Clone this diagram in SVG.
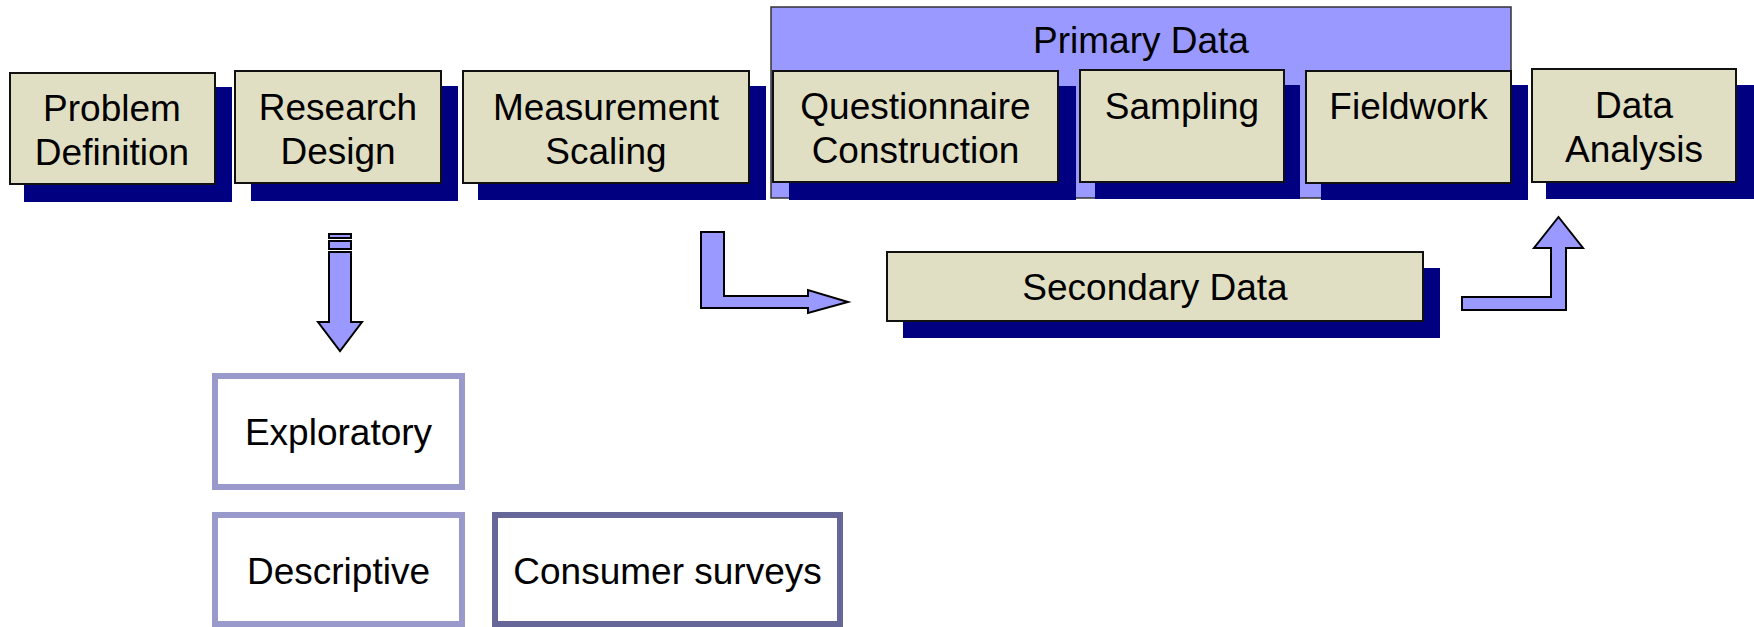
<svg xmlns="http://www.w3.org/2000/svg" width="1754" height="627" viewBox="0 0 1754 627">
<style>
.sh{fill:#000080;}
.bx{fill:#E1DFC3;stroke:#111;stroke-width:2;}
.t{font-family:"Liberation Sans",Arial,sans-serif;font-size:37px;fill:#000;text-anchor:middle;}
.arr{fill:#9999FF;stroke:#000;stroke-width:2;stroke-linejoin:miter;}
.lt{fill:#fff;stroke:#9999CC;stroke-width:6;}
.dk{fill:#fff;stroke:#666699;stroke-width:6;}
</style>
<rect width="1754" height="627" fill="#fff"/>
<g id="primary-data">
<rect x="771" y="7" width="740" height="191" fill="#9999FF" stroke="#333" stroke-width="1.5"/>
<text class="t" x="1141" y="53">Primary Data</text>
</g>
<g id="shadows">
<rect class="sh" x="24" y="87" width="208" height="115"/>
<rect class="sh" x="251" y="86" width="207" height="115"/>
<rect class="sh" x="478" y="86" width="288" height="114"/>
<rect class="sh" x="789" y="86" width="287" height="114"/>
<rect class="sh" x="1095" y="85" width="205" height="114"/>
<rect class="sh" x="1321" y="85" width="207" height="115"/>
<rect class="sh" x="1546" y="85" width="208" height="114"/>
<rect class="sh" x="903" y="268" width="537" height="70"/>
</g>
<g id="problem-definition">
<rect class="bx" x="10" y="73" width="205" height="111"/>
<text class="t" x="112" y="121">Problem</text>
<text class="t" x="112" y="165">Definition</text>
</g>
<g id="research-design">
<rect class="bx" x="235" y="71" width="206" height="112"/>
<text class="t" x="338" y="120">Research</text>
<text class="t" x="338" y="164">Design</text>
</g>
<g id="measurement-scaling">
<rect class="bx" x="463" y="71" width="286" height="112"/>
<text class="t" x="606" y="120">Measurement</text>
<text class="t" x="606" y="164">Scaling</text>
</g>
<g id="questionnaire-construction">
<rect class="bx" x="773" y="71" width="285" height="111"/>
<text class="t" x="915.5" y="119">Questionnaire</text>
<text class="t" x="915.5" y="163">Construction</text>
</g>
<g id="sampling">
<rect class="bx" x="1080" y="70" width="204" height="112"/>
<text class="t" x="1182" y="119">Sampling</text>
</g>
<g id="fieldwork">
<rect class="bx" x="1306" y="71" width="205" height="112"/>
<text class="t" x="1408.5" y="119">Fieldwork</text>
</g>
<g id="data-analysis">
<rect class="bx" x="1532" y="69" width="204" height="113"/>
<text class="t" x="1634" y="118">Data</text>
<text class="t" x="1634" y="162">Analysis</text>
</g>
<g id="secondary-data">
<rect class="bx" x="887" y="252" width="536" height="69"/>
<text class="t" x="1155" y="300">Secondary Data</text>
</g>
<g id="exploratory">
<rect class="lt" x="215" y="376" width="247" height="111"/>
<text class="t" x="338.5" y="445">Exploratory</text>
</g>
<g id="descriptive">
<rect class="lt" x="215" y="515" width="247" height="109"/>
<text class="t" x="338.5" y="584">Descriptive</text>
</g>
<g id="consumer-surveys">
<rect class="dk" x="495" y="515" width="345" height="109"/>
<text class="t" x="667.5" y="584">Consumer surveys</text>
</g>
<g id="connectors">
<rect class="arr" x="329" y="234" width="22" height="4"/>
<rect class="arr" x="329" y="241" width="22" height="8"/>
<polygon class="arr" points="329,252 351,252 351,322 362,322 340,351 318,322 329,322"/>
<polygon class="arr" points="701,232 724,232 724,296 808,296 808,290 848,302 808,313 808,308 701,308"/>
<polygon class="arr" points="1462,297 1551,297 1551,248 1534,248 1558.5,217 1583,248 1566,248 1566,310 1462,310"/>
</g>
</svg>
